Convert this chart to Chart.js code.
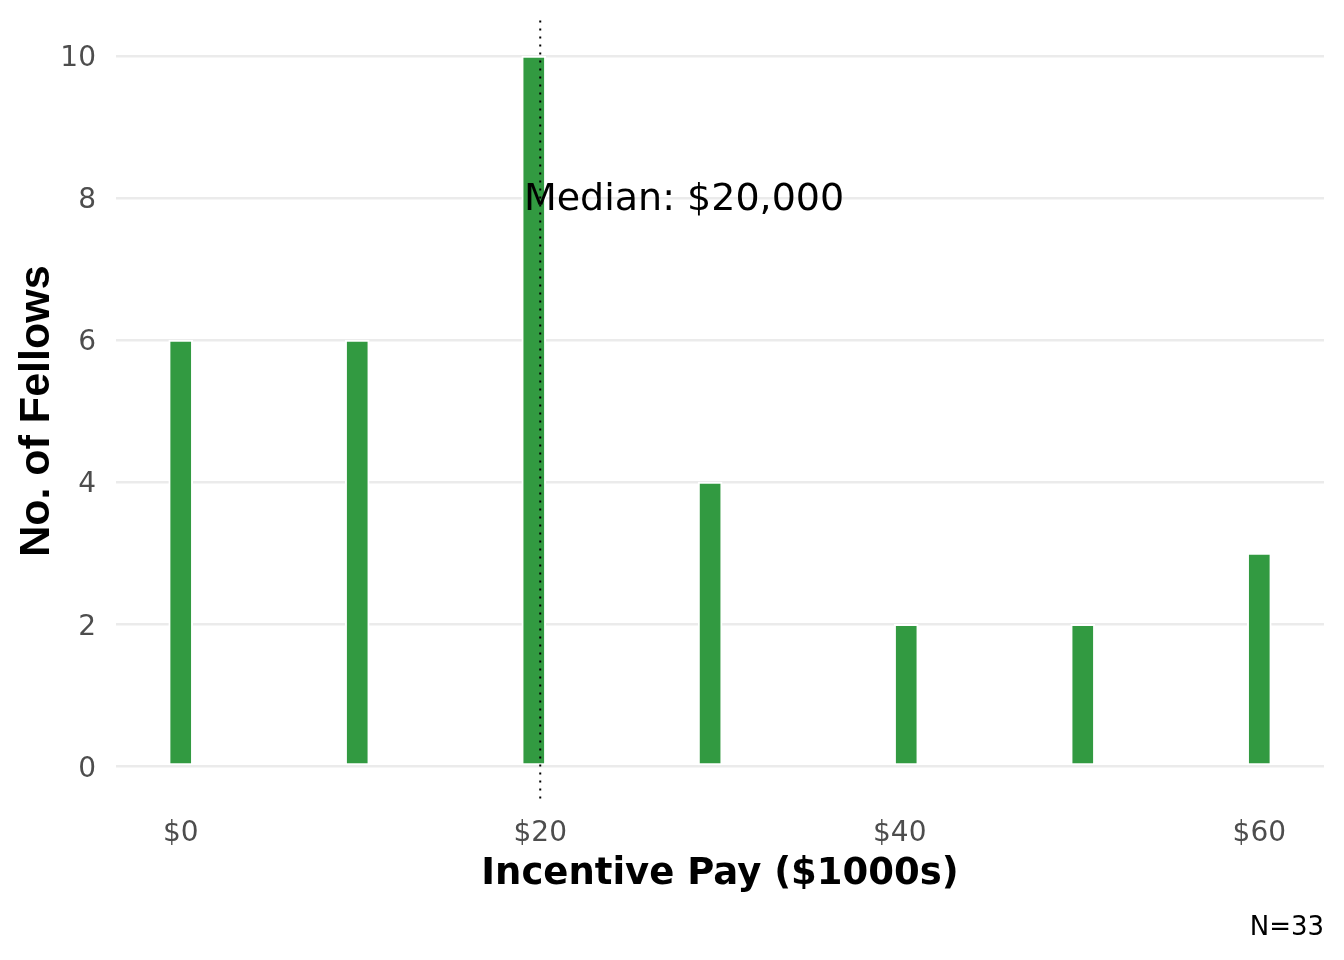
<!DOCTYPE html>
<html>
<head>
<meta charset="utf-8">
<script src="https://cdn.jsdelivr.net/npm/chart.js@4/dist/chart.umd.min.js"></script>
<style>
  html, body { margin: 0; padding: 0; background: #fff; }
  #wrap { width: 1344px; height: 960px; position: relative; }
</style>
</head>
<body>
<div id="wrap"><canvas id="pay-chart"></canvas></div>
<script>
// histogram bins (centre of each bin, $1000s) and counts
const binCenters = [0, 9.82, 19.64, 29.45, 40.36, 50.18, 60];
const fellowCounts = [6, 6, 10, 4, 2, 2, 3];

const xTickValues = [0, 20, 40, 60];
const yTickValues = [0, 2, 4, 6, 8, 10];

const medianPay = 20;
const medianLabel = "Median: $20,000";
const medianLabelPos = { x: 28, y: 8 };
const captionText = "N=33";

const mainFont = "'DejaVu Sans', sans-serif";

const medianPlugin = {
  id: "medianLine",
  afterDatasetsDraw(chart) {
    const { ctx, chartArea, scales } = chart;
    const x = scales.x.getPixelForValue(medianPay);
    ctx.save();
    ctx.beginPath();
    ctx.setLineDash([2, 6]);
    ctx.lineWidth = 2;
    ctx.strokeStyle = "#000";
    ctx.moveTo(x, chartArea.top);
    ctx.lineTo(x, chartArea.bottom);
    ctx.stroke();
    ctx.setLineDash([]);
    ctx.font = "38px " + mainFont;
    ctx.fillStyle = "#000";
    ctx.textAlign = "center";
    ctx.textBaseline = "middle";
    ctx.fillText(
      medianLabel,
      scales.x.getPixelForValue(medianLabelPos.x),
      scales.y.getPixelForValue(medianLabelPos.y) + 2
    );
    ctx.restore();
  }
};

function initChart() {
  const ctx = document.getElementById("pay-chart").getContext("2d");

  new Chart(ctx, {
    type: "bar",
    data: {
      datasets: [
        {
          label: "Fellows",
          data: binCenters.map((x, i) => ({ x: x, y: fellowCounts[i] })),
          backgroundColor: "#329a41",
          borderColor: "#ffffff",
          borderWidth: 2,
          borderSkipped: false,
          barThickness: 24
        }
      ]
    },
    options: {
      responsive: true,
      maintainAspectRatio: false,
      animation: false,
      layout: {
        padding: { left: 0, right: 20, top: 20.5, bottom: 0 }
      },
      plugins: {
        legend: { display: false },
        tooltip: { enabled: false },
        title: {
          display: true,
          text: captionText,
          position: "bottom",
          align: "end",
          color: "#000",
          font: { family: mainFont, size: 26, weight: "normal" },
          padding: { top: 0, bottom: 16 }
        }
      },
      scales: {
        x: {
          type: "linear",
          offset: false,
          min: -3.6,
          max: 63.6,
          grid: { display: false },
          border: { display: false },
          afterBuildTicks: (scale) => {
            scale.ticks = xTickValues.map((v) => ({ value: v }));
          },
          afterFit: (scale) => {
            scale.height = 111;
          },
          ticks: {
            padding: 7,
            color: "#4d4d4d",
            font: { family: mainFont, size: 28 },
            maxRotation: 0,
            callback: (v) => "$" + v
          },
          title: {
            display: true,
            text: "Incentive Pay ($1000s)",
            color: "#000",
            font: { family: mainFont, size: 37, weight: "bold" },
            padding: { top: 0, bottom: 16 }
          }
        },
        y: {
          min: -0.5,
          max: 10.5,
          grid: { color: "#ebebeb", lineWidth: 2.5, drawTicks: false },
          border: { display: false },
          afterBuildTicks: (scale) => {
            scale.ticks = yTickValues.map((v) => ({ value: v }));
          },
          afterFit: (scale) => {
            scale.width = 116;
            scale.paddingTop = 0;
            scale.paddingBottom = 0;
          },
          ticks: {
            padding: 20,
            labelOffset: 3,
            color: "#4d4d4d",
            font: { family: mainFont, size: 28 }
          },
          title: {
            display: true,
            text: "No. of Fellows",
            color: "#000",
            font: { family: "'Liberation Sans', Arial, sans-serif", size: 43, weight: "bold" },
            padding: { top: 11, bottom: 0 }
          }
        }
      }
    },
    plugins: [medianPlugin]
  });
}

initChart();
</script>
</body>
</html>
